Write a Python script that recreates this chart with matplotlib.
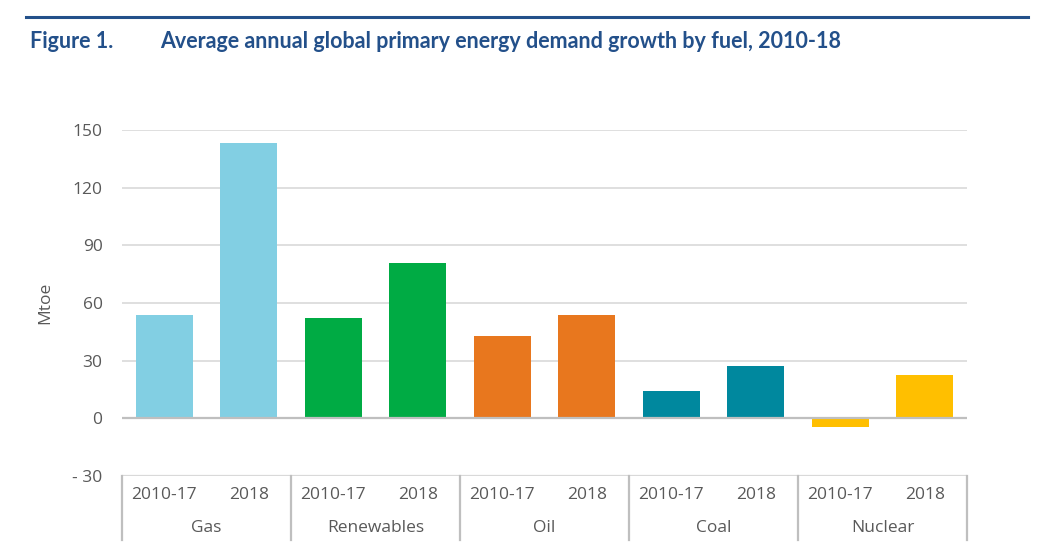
import numpy as np
import matplotlib.pyplot as plt
from matplotlib.transforms import blended_transform_factory
from matplotlib.lines import Line2D

# data
fuels = ['Gas', 'Renewables', 'Oil', 'Coal', 'Nuclear']
periods = ['2010-17', '2018']
growth_2010_17 = [54, 52, 43, 14, -4.5]
growth_2018 = [143, 81, 54, 27, 22.5]
fuel_colors = ['#82CFE3', '#00AB44', '#E8771E', '#00889E', '#FFBF00']
y_ticks = [-30, 0, 30, 60, 90, 120, 150]
y_tick_labels = ['- 30', '0', '30', '60', '90', '120', '150']

navy = '#23508A'
text_grey = '#595959'

plt.rcParams['font.family'] = ['Open Sans', 'DejaVu Sans']

fig = plt.figure(figsize=(10.44, 5.5), dpi=100)
W, H = 1044, 550
# axes in pixel coords: left 122, right 967, top 130, bottom 476
ax = fig.add_axes([122 / W, (H - 476) / H, (967 - 122) / W, (476 - 130) / H])

# header rule and title
fig.add_artist(Line2D([26 / W, 1028 / W], [1 - 17 / H, 1 - 17 / H],
                      color=navy, lw=2.2, transform=fig.transFigure))
fig.text(30 / W, 1 - 42 / H, 'Figure 1.', color=navy, fontsize=15.5,
         fontweight='bold', family=['Lato', 'DejaVu Sans'], va='center', ha='left')
fig.text(160 / W, 1 - 42 / H,
         'Average annual global primary energy demand growth by fuel, 2010-18',
         color=navy, fontsize=15.5, fontweight='bold',
         family=['Lato', 'DejaVu Sans'], va='center', ha='left')

# bars
x_pos = []
vals = []
cols = []
for i in range(len(fuels)):
    x_pos += [2 * i, 2 * i + 1]
    vals += [growth_2010_17[i], growth_2018[i]]
    cols += [fuel_colors[i], fuel_colors[i]]
ax.bar(x_pos, vals, width=0.675, color=cols, zorder=3)

ax.set_xlim(-0.5, 2 * len(fuels) - 0.5)
ax.set_ylim(-30, 150)
ax.set_yticks(y_ticks)
ax.set_yticklabels(y_tick_labels)
ax.tick_params(axis='y', length=0, pad=14, labelsize=12.5, labelcolor=text_grey)
ax.set_xticks([])
for s in ax.spines.values():
    s.set_visible(False)

# grid
for t in y_ticks[2:]:
    ax.axhline(t, color='#D9D9D9', lw=1.2, zorder=1)
ax.axhline(0, color='#BFBFBF', lw=1.6, zorder=4)
ax.axhline(-30, color='#D9D9D9', lw=1.6, zorder=1)

ax.set_ylabel('Mtoe', color=text_grey, fontsize=12.5, labelpad=14)

# category axis below
tr = blended_transform_factory(ax.transData, ax.transAxes)
ax_h = 476 - 130
def yfrac(pix):
    return -(pix - 476) / ax_h

for b in np.arange(-0.5, 2 * len(fuels), 2):
    ax.plot([b, b], [0, yfrac(540)], color='#BFBFBF', lw=1.6,
            transform=tr, clip_on=False)
for i, f in enumerate(fuels):
    for j, p in enumerate(periods):
        ax.text(2 * i + j, yfrac(495), p, transform=tr, ha='center', va='center',
                fontsize=12.5, color=text_grey)
    ax.text(2 * i + 0.5, yfrac(528), f, transform=tr, ha='center', va='center',
            fontsize=12.5, color=text_grey)

fig.savefig('out.png', dpi=100)
